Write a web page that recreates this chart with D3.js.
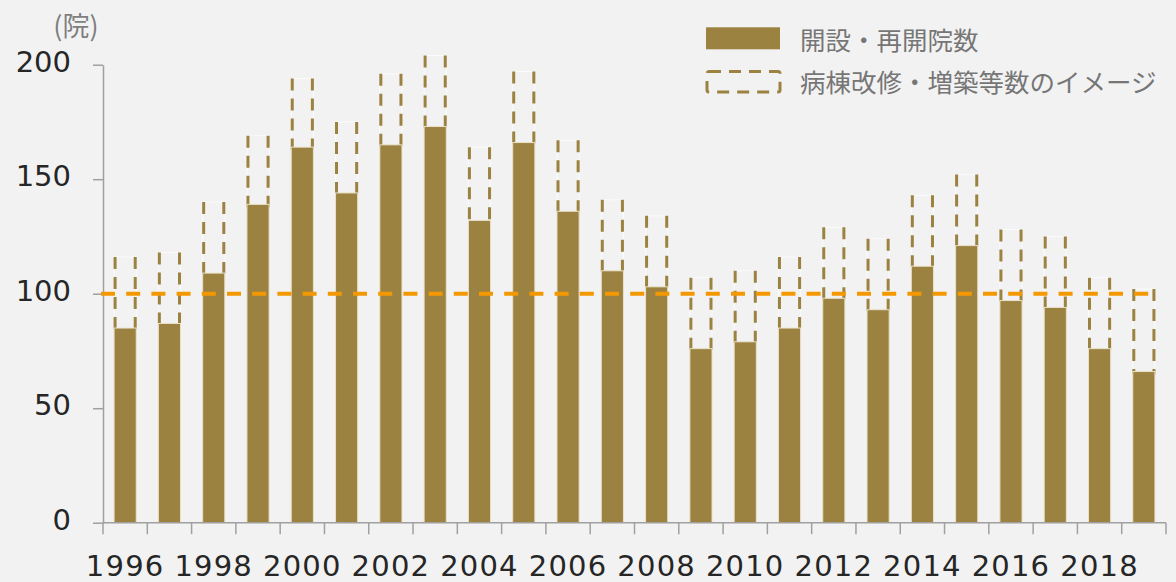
<!DOCTYPE html>
<html>
<head>
<meta charset="utf-8">
<script src="https://cdn.jsdelivr.net/npm/d3@7"></script>
<style>
  html, body { margin: 0; padding: 0; background: #f2f2f2; }
  svg { display: block; }
</style>
</head>
<body>
<svg id="chart"></svg>
<script>
// data
var years = [1996, 1997, 1998, 1999, 2000, 2001, 2002, 2003, 2004, 2005, 2006, 2007,
             2008, 2009, 2010, 2011, 2012, 2013, 2014, 2015, 2016, 2017, 2018, 2019];
var openings = [85, 87, 109, 139, 164, 144, 165, 173, 132, 166, 136, 110,
                103, 76, 79, 85, 98, 93, 112, 121, 97, 94, 76, 66];
var withRenovation = [116, 118, 140, 169, 194, 175, 196, 204, 164, 197, 167, 141,
                      134, 107, 110, 116, 129, 124, 143, 152, 128, 125, 107, 102];
var refValue = 100;
var yTicks = [0, 50, 100, 150, 200];
var xLabelYears = [1996, 1998, 2000, 2002, 2004, 2006, 2008, 2010, 2012, 2014, 2016, 2018];
var legendLabels = ["開設・再開院数", "病棟改修・増築等数のイメージ"];
var unitLabel = "(院)";

const width = 1176;
const height = 582;
const marginTop = 64.7;
const marginRight = 10;
const marginBottom = 59.3;
const marginLeft = 103;

const BAR = "#9c8241";
const ORANGE = "#f39800";
const AXIS = "#a0a0a0";

var svg = d3.select("#chart")
    .attr("width", width)
    .attr("height", height)
    .attr("viewBox", [0, 0, width, height])
    .style("font-family", "'DejaVu Sans', sans-serif");

svg.append("rect").attr("width", width).attr("height", height).attr("fill", "#f2f2f2");

// scales
const x = d3.scaleBand(years, [marginLeft, width - marginRight])
    .paddingInner(0.5)
    .paddingOuter(0.25);
const y = d3.scaleLinear([0, 200], [height - marginBottom, marginTop]);
const step = x.step();

// dashed boxes: total incl. renovations (drawn behind)
var boxes = svg.append("g");
years.forEach(function(yr, i) {
  var x0 = x(yr), x1 = x(yr) + x.bandwidth();
  var top = y(withRenovation[i]), bot = y(openings[i]);
  boxes.append("rect")
      .attr("x", x0).attr("y", top)
      .attr("width", x.bandwidth()).attr("height", bot - top)
      .attr("fill", "none")
      .attr("stroke", "#ffffff")
      .attr("stroke-opacity", 0.7)
      .attr("stroke-width", 1);
  [x0 + 1, x1 - 1].forEach(function(xx) {
    boxes.append("line")
        .attr("x1", xx).attr("x2", xx)
        .attr("y1", top).attr("y2", bot + 3)
        .attr("stroke", BAR)
        .attr("stroke-width", 3)
        .attr("stroke-dasharray", "12,8");
  });
});

// solid bars
svg.append("g")
  .selectAll("rect")
  .data(years)
  .join("rect")
    .attr("x", d => x(d))
    .attr("y", (d, i) => y(openings[i]))
    .attr("width", x.bandwidth())
    .attr("height", (d, i) => y(0) - y(openings[i]))
    .attr("fill", BAR)
    .attr("stroke", "#e9e1c8")
    .attr("stroke-width", 1);

// y axis
svg.append("g")
    .attr("transform", `translate(${marginLeft},0)`)
    .call(d3.axisLeft(y).tickValues(yTicks).tickSize(10).tickPadding(22).tickSizeOuter(0))
    .call(g => g.select(".domain").attr("stroke", AXIS).attr("stroke-width", 1.5))
    .call(g => g.selectAll(".tick line").attr("stroke", AXIS).attr("stroke-width", 1.5))
    .call(g => g.selectAll(".tick text")
        .attr("fill", "#262626")
        .attr("font-size", 29)
        .attr("font-family", "'DejaVu Sans', sans-serif")
        .attr("dy", "0.22em"));

// x axis: line + ticks at category boundaries
var xAxis = svg.append("g").attr("transform", `translate(0,${y(0)})`);
xAxis.append("line")
    .attr("x1", marginLeft).attr("x2", marginLeft + step * years.length)
    .attr("stroke", AXIS).attr("stroke-width", 1.5);
d3.range(years.length + 1).forEach(function(k) {
  xAxis.append("line")
      .attr("x1", marginLeft + k * step).attr("x2", marginLeft + k * step)
      .attr("y1", 0).attr("y2", 11.5)
      .attr("stroke", AXIS).attr("stroke-width", 1.5);
});
xAxis.selectAll("text.yr")
  .data(xLabelYears)
  .join("text")
    .attr("class", "yr")
    .attr("x", d => x(d) + x.bandwidth() / 2)
    .attr("y", 53)
    .attr("text-anchor", "middle")
    .attr("fill", "#262626")
    .attr("font-size", 29)
    .attr("letter-spacing", 1.2)
    .text(d => d);

// reference line at 100
svg.append("line")
    .attr("x1", 101).attr("x2", 1150)
    .attr("y1", y(refValue)).attr("y2", y(refValue))
    .attr("stroke", ORANGE)
    .attr("stroke-width", 4)
    .attr("stroke-dasharray", "14,11.2");

// unit label
svg.append("text")
    .attr("x", 76).attr("y", 24)
    .attr("text-anchor", "middle")
    .attr("dominant-baseline", "central")
    .attr("fill", "#7f7f7f")
    .attr("font-size", 27)
    .attr("font-family", "'Noto Sans CJK JP', sans-serif")
    .text(unitLabel);

// legend
var legend = svg.append("g").attr("font-family", "'Noto Sans CJK JP', sans-serif");
legend.append("rect")
    .attr("x", 706).attr("y", 27.3).attr("width", 74).attr("height", 22)
    .attr("fill", BAR);
legend.append("rect")
    .attr("x", 707).attr("y", 71.5).attr("width", 73).attr("height", 20.5)
    .attr("rx", 2)
    .attr("fill", "none")
    .attr("stroke", BAR)
    .attr("stroke-width", 3)
    .attr("stroke-dasharray", "12,8");
legend.selectAll("text")
  .data(legendLabels)
  .join("text")
    .attr("x", 800)
    .attr("y", (d, i) => 38 + i * 42)
    .attr("dominant-baseline", "central")
    .attr("fill", "#767676")
    .attr("font-size", 25.5)
    .text(d => d);
</script>
</body>
</html>
